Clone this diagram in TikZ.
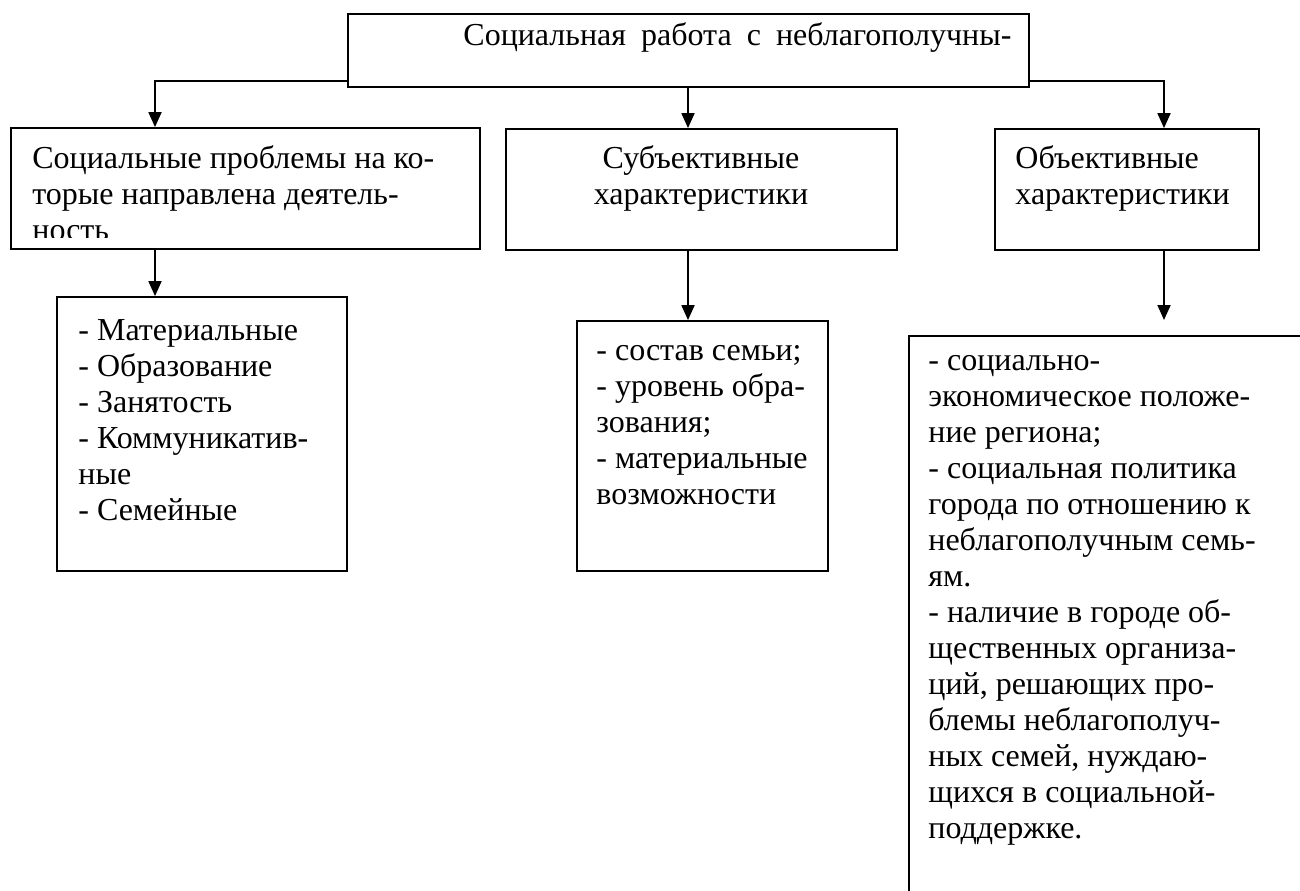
\documentclass[tikz,border=0pt]{standalone}
\usepackage{fontspec}
\setmainfont{Liberation Serif}
\usetikzlibrary{arrows.meta,fit}
\begin{document}
\begin{tikzpicture}[x=0.5pt,y=-0.5pt,
  box/.style={draw,line width=0.9pt,inner sep=0pt},
  arr/.style={line width=0.9pt,-{Triangle[width=6.5pt,length=7.5pt]}},
  txt/.style={inner sep=0pt,font=\fontsize{16}{18}\selectfont,align=left},
  ]
\useasboundingbox[fill=white] (0,0) rectangle (1300,890);
% boxes
\node[box,fit={(348,14) (1029,87)}] (top) {};
\node[box,fit={(11,128) (480,249)}] (A) {};
\node[box,fit={(506,129) (897,250)}] (B) {};
\node[box,fit={(995,129) (1259,250)}] (C) {};
\node[box,fit={(57,297) (347,571)}] (D) {};
\node[box,fit={(577,321) (828,571)}] (E) {};
\node[box,fit={(909,336) (1320,910)}] (F) {};
% texts (base anchor = baseline of the last line)
\node[txt,anchor=base west] (ttop) at (463,45) {\hbox to 274pt{Социальная \hfill работа \hfill с \hfill неблагополучны-}};
\begin{scope}
\clip (11,128) rectangle (480,237);
\node[txt,anchor=base west] (tA) at (32,240) {Социальные проблемы на ко-\\торые направлена деятель-\\ность};
\end{scope}
\node[txt,align=center,anchor=base] (tB) at (701,204) {Субъективные\\характеристики};
\node[txt,anchor=base west] (tC) at (1015,204) {Объективные\\характеристики};
\node[txt,anchor=base west] (tD) at (78,520) {- Материальные\\- Образование\\- Занятость\\- Коммуникатив-\\ные\\- Семейные};
\node[txt,anchor=base west] (tE) at (596,504) {- состав семьи;\\- уровень обра-\\зования;\\- материальные\\возможности};
\node[txt,anchor=base west] (tF) at (928,838) {- социально-\\экономическое положе-\\ние региона;\\- социальная политика\\города по отношению к\\неблагополучным семь-\\ям.\\- наличие в городе об-\\щественных организа-\\ций, решающих про-\\блемы неблагополуч-\\ных семей, нуждаю-\\щихся в социальной-\\поддержке.};
% connectors
\coordinate (jl) at (155,81);
\coordinate (jm) at (688,0);
\coordinate (jr) at (1164,81);
\coordinate (endF) at (1164,320);
\draw[arr] (jl -| top.west) -- (jl) -- (jl |- A.north);
\draw[arr] (jm |- top.south) -- (jm |- B.north);
\draw[arr] (jr -| top.east) -- (jr) -- (jr |- C.north);
\draw[arr] (jl |- A.south) -- (jl |- D.north);
\draw[arr] (jm |- B.south) -- (jm |- E.north);
\draw[arr] (jr |- C.south) -- (endF);
\end{tikzpicture}
\end{document}
